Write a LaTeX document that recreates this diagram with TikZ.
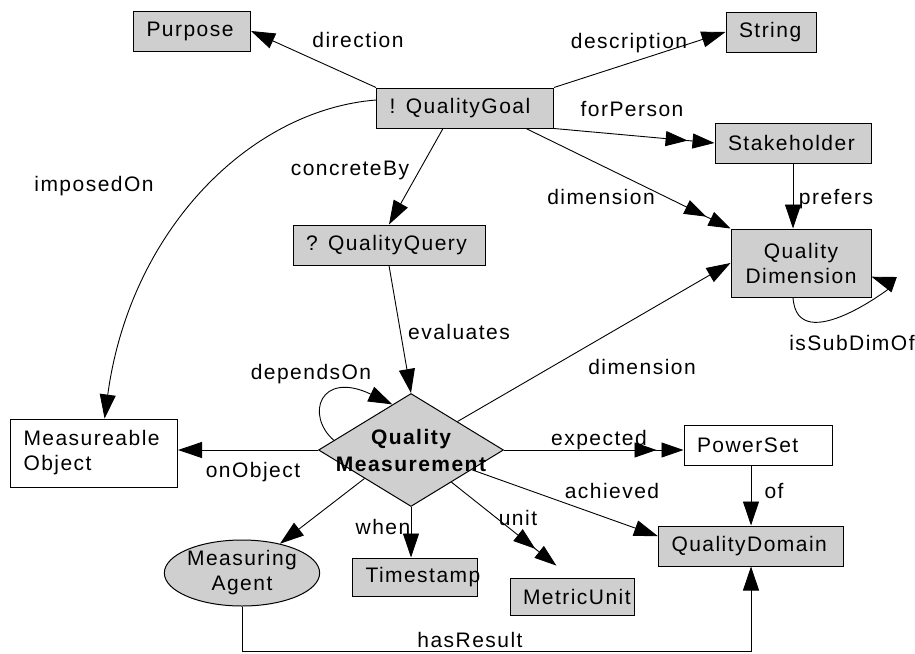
\documentclass[tikz,border=0pt]{standalone}
\usepackage{fontspec}
\setmainfont{Liberation Sans}[LetterSpace=7]
\usepackage{tikz}
\usetikzlibrary{arrows.meta,shapes.geometric,calc}
\definecolor{NodeGray}{HTML}{CFCFCF}

\begin{document}
\begin{tikzpicture}[
  x=1pt, y=-1pt,
  font=\fontsize{21}{25}\selectfont,
  box/.style={draw,fill=NodeGray,line width=1pt,inner xsep=13pt,inner ysep=0pt,minimum height=40pt,align=left},
  plain/.style={box,fill=white},
  lbl/.style={inner sep=0pt},
  arrow/.style={-{Triangle[length=24pt,width=16pt]},line width=0.9pt},
  arrow2/.style={-{Triangle[length=22pt,width=15pt,sep=5pt]Triangle[length=22pt,width=15pt]},line width=0.9pt}
]
  \useasboundingbox (0,0) rectangle (915,653);

  % classes
  \node[box,text width=91pt] (purpose) at (192,31) {Purpose};
  \node[box,text width=64pt] (string) at (771,32) {String};
  \node[box,text width=151pt] (qgoal) at (465,108) {! QualityGoal};
  \node[box,text width=130pt] (stake) at (793,143) {Stakeholder};
  \node[box,text width=166pt] (qquery) at (389,245) {? QualityQuery};
  \node[box,align=center,minimum width=140pt,minimum height=68pt] (qdim) at (801,263) {Quality\\Dimension};
  \node[plain,text width=141pt,minimum height=68pt] (mobj) at (94,453) {Measureable\\Object};
  \node[diamond,draw,fill=NodeGray,line width=1pt,minimum width=185pt,minimum height=113pt,inner sep=0pt] (meas) at (411,450) {};
  \node[font=\fontsize{21}{27}\selectfont\bfseries,align=center] (measText) at (meas) {Quality\\Measurement};
  \node[plain,text width=122pt] (pset) at (758,445) {PowerSet};
  \node[box,text width=159pt] (qdom) at (751,546) {QualityDomain};
  \node[ellipse,draw,fill=NodeGray,line width=1pt,minimum width=151pt,minimum height=66pt,inner sep=0pt,align=center] (agent) at (242,573) {Measuring\\Agent};
  \node[box,text width=99pt,minimum height=38pt] (tstamp) at (415,577) {Timestamp};
  \node[box,text width=98pt,minimum height=37pt] (munit) at (572,597) {MetricUnit};
  \coordinate (hrBase) at (0,651);

  % relations
  \draw[arrow] (qgoal.north west) -- (purpose.east);
  \draw[arrow] (qgoal.north east) -- (string.west);
  \draw[arrow2] (qgoal.south east) -- (stake.west);
  \draw[arrow2] ($(qgoal.south east)+(-28,0)$) -- (qdim.north west);
  \draw[arrow] ($(qgoal.south)+(-22,0)$) -- (qquery.north);
  \draw[arrow] ($(qgoal.west)+(0,-8)$) .. controls (250,110) and (130,230) .. (mobj.73);
  \draw[arrow] (stake.south) -- (stake.south |- qdim.north);
  \draw[arrow] ($(qdim.south)+(-8,0)$) .. controls (797,360) and (895,285) .. (qdim.-11);
  \draw[arrow] (qquery.south) -- (meas.north);
  \draw[arrow] ($(meas.west)!0.17!(meas.north)$) .. controls (305,415) and (320,370) .. ($(meas.west)!0.8!(meas.north)$);
  \draw[arrow] (meas.north east) -- (qdim.west);
  \draw[arrow] (meas.west) -- (meas.west -| mobj.east);
  \draw[arrow2] (meas.east) -- (meas.east -| pset.west);
  \draw[arrow] (meas.-18) -- (qdom.174);
  \draw[arrow2,shorten >=20pt] (meas) -- (munit.north);
  \draw[arrow] (meas.south) -- (meas.south |- tstamp.north);
  \draw[arrow] (meas.south west) -- (agent);
  \draw[arrow] (qdom.north |- pset.south) -- (qdom.north);
  \draw[arrow] (agent.south) -- (agent.south |- hrBase) -| (qdom.south);

  % labels
  \node[lbl] (lDirection) at (358,40) {direction};
  \node[lbl] (lDescription) at (629,43) {description};
  \node[lbl] (lForPerson) at (632,109) {forPerson};
  \node[lbl] (lDimGoal) at (601,197) {dimension};
  \node[lbl] (lPrefers) at (836,199) {prefers};
  \node[lbl] (lSubDim) at (852,343) {isSubDimOf};
  \node[lbl] (lConcrete) at (350,170) {concreteBy};
  \node[lbl] (lImposed) at (94,186) {imposedOn};
  \node[lbl] (lEvaluates) at (459,332) {evaluates};
  \node[lbl] (lDepends) at (311,374) {dependsOn};
  \node[lbl] (lDimMeas) at (642,367) {dimension};
  \node[lbl] (lOnObject) at (253,472) {onObject};
  \node[lbl] (lExpected) at (599,440) {expected};
  \node[lbl] (lAchieved) at (612,491) {achieved};
  \node[lbl] (lUnit) at (518,518) {unit};
  \node[lbl] (lWhen) at (383,527) {when};
  \node[lbl] (lOf) at (774,491) {of};
  \node[lbl] (lResult) at (470,640) {hasResult};
\end{tikzpicture}
\end{document}
